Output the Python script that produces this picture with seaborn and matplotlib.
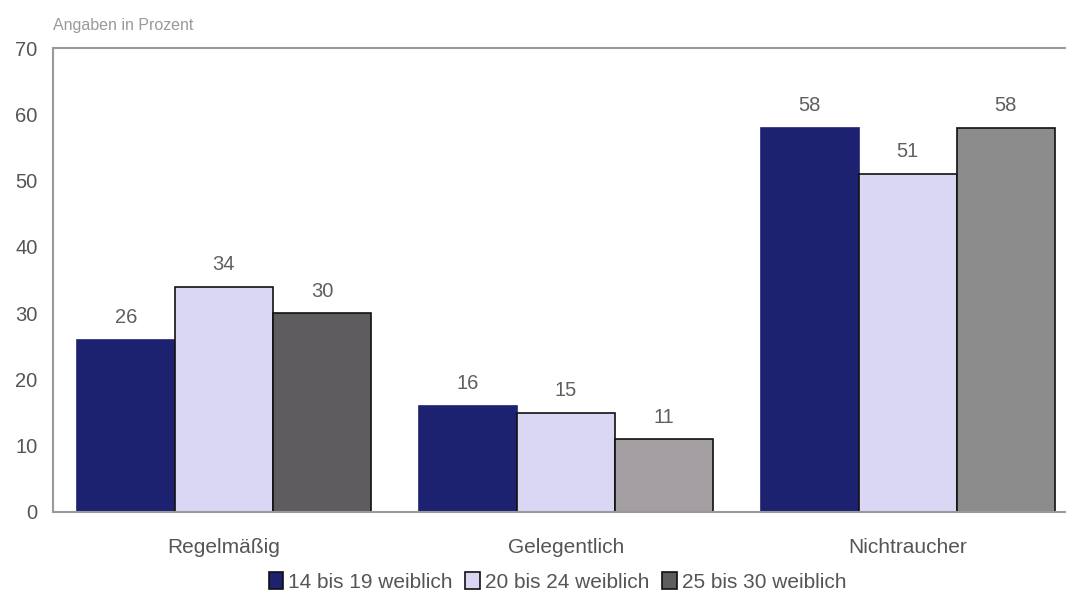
import matplotlib
matplotlib.use("Agg")
import matplotlib.pyplot as plt
from matplotlib.patches import Patch
import seaborn as sns
import pandas as pd

categories = ["Regelmäßig", "Gelegentlich", "Nichtraucher"]
series_names = ["14 bis 19 weiblich", "20 bis 24 weiblich", "25 bis 30 weiblich"]
values_14_19 = [26, 16, 58]
values_20_24 = [34, 15, 51]
values_25_30 = [30, 11, 58]
y_ticks = [0, 10, 20, 30, 40, 50, 60, 70]

colors = ["#1d2270", "#d9d7f4", "#5e5c5e"]
gray_shades = ["#5e5c5e", "#a49fa3", "#8d8c8c"]

rows = []
for name, vals in zip(series_names, [values_14_19, values_20_24, values_25_30]):
    for cat, v in zip(categories, vals):
        rows.append({"Kategorie": cat, "Gruppe": name, "Wert": v})
df = pd.DataFrame(rows)

sns.set_theme(style="white")
plt.rcParams["font.family"] = ["Liberation Sans", "DejaVu Sans"]

fig = plt.figure(figsize=(10.68, 6.0), dpi=100)
ax = fig.add_axes([0.0496, 0.1467, 0.9476, 0.7733])

sns.barplot(data=df, x="Kategorie", y="Wert", hue="Gruppe", order=categories,
            hue_order=series_names, palette=colors, width=0.86, gap=0,
            edgecolor="#111111", linewidth=1.2, saturation=1, legend=False, ax=ax)

# the oldest group is printed in slightly different gray tones per category
for patch, shade in zip(ax.containers[2].patches, gray_shades):
    patch.set_facecolor(shade)
# the youngest group has no visible outline
for patch in ax.containers[0].patches:
    patch.set_edgecolor(colors[0])

for cont in ax.containers:
    ax.bar_label(cont, labels=[f"{int(v)}" for v in cont.datavalues], padding=9,
                 fontsize=14.5, color="#5f5f5f")

ax.set_ylim(0, 70)
ax.set_xlim(-0.5, 2.46)
ax.set_yticks(y_ticks)
ax.set_yticklabels([str(t) for t in y_ticks], fontsize=14.5, color="#555555")
ax.tick_params(axis="y", length=0, pad=11)
ax.tick_params(axis="x", length=0, pad=19, labelsize=15, labelcolor="#555555")
ax.set_xlabel("")
ax.set_ylabel("")

for side in ["left", "bottom", "top"]:
    ax.spines[side].set_color("#9a9a9a")
    ax.spines[side].set_linewidth(1.5)
ax.spines["right"].set_visible(False)

fig.text(0.050, 0.958, "Angaben in Prozent", fontsize=11.5, color="#9a9a9a",
         ha="left", va="center")

handles = [Patch(facecolor=c, edgecolor="#111111", linewidth=1.2) for c in colors]
fig.legend(handles, series_names, loc="center", bbox_to_anchor=(0.522, 0.030),
           ncol=3, frameon=False, fontsize=15, labelcolor="#555555",
           handlelength=0.7, handleheight=0.9, handletextpad=0.25, columnspacing=0.6)

fig.savefig("out.png", dpi=100, facecolor="white")
